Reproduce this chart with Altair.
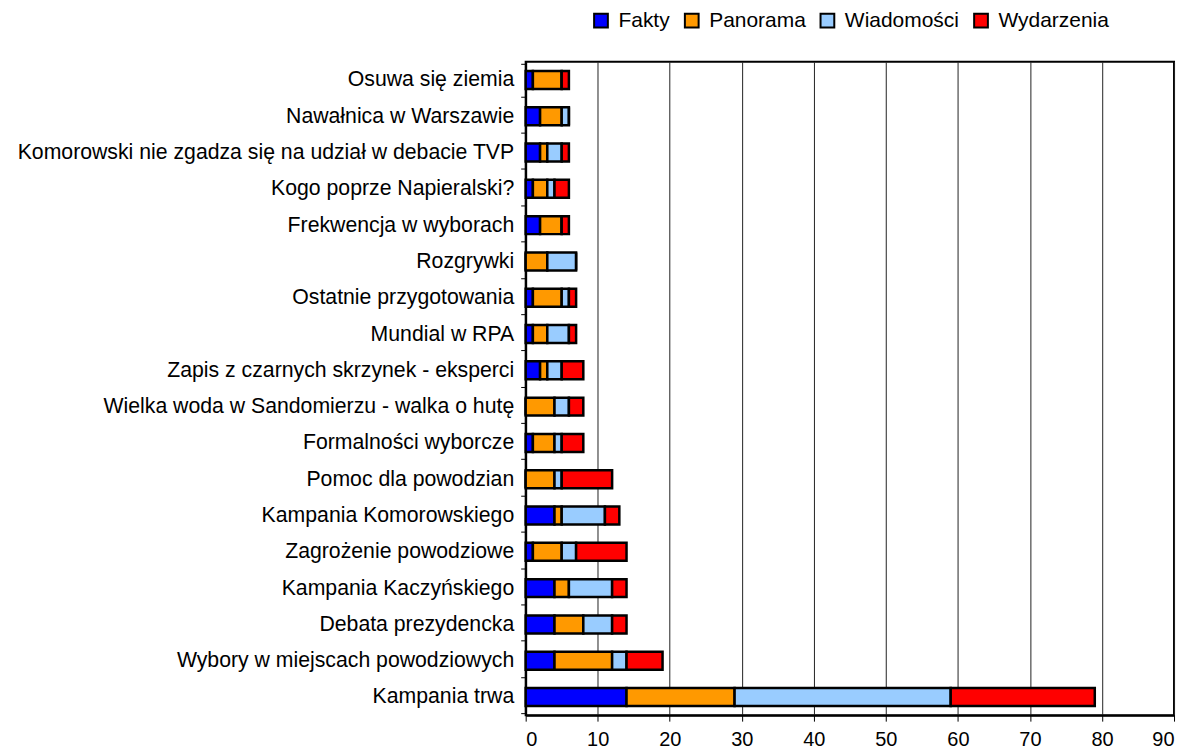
import altair as alt
import pandas as pd

topics = [
    "Osuwa się ziemia",
    "Nawałnica w Warszawie",
    "Komorowski nie zgadza się na udział w debacie TVP",
    "Kogo poprze Napieralski?",
    "Frekwencja w wyborach",
    "Rozgrywki",
    "Ostatnie przygotowania",
    "Mundial w RPA",
    "Zapis z czarnych skrzynek - eksperci",
    "Wielka woda w Sandomierzu - walka o hutę",
    "Formalności wyborcze",
    "Pomoc dla powodzian",
    "Kampania Komorowskiego",
    "Zagrożenie powodziowe",
    "Kampania Kaczyńskiego",
    "Debata prezydencka",
    "Wybory w miejscach powodziowych",
    "Kampania trwa",
]
fakty =       [1, 2, 2, 1, 2, 0, 1, 1, 2, 0, 1, 0, 4, 1, 4, 4, 4, 14]
panorama =    [4, 3, 1, 2, 3, 3, 4, 2, 1, 4, 3, 4, 1, 4, 2, 4, 8, 15]
wiadomosci =  [0, 1, 2, 1, 0, 4, 1, 3, 2, 2, 1, 1, 6, 2, 6, 4, 2, 30]
wydarzenia =  [1, 0, 1, 2, 1, 0, 1, 1, 3, 2, 3, 7, 2, 7, 2, 2, 5, 20]

series = ["Fakty", "Panorama", "Wiadomości", "Wydarzenia"]
colors = ["#0000FF", "#FF9900", "#99CCFF", "#FF0000"]
x_ticks = [0, 10, 20, 30, 40, 50, 60, 70, 80, 90]

rows = []
for s_i, (name, vals) in enumerate(zip(series, [fakty, panorama, wiadomosci, wydarzenia])):
    for t, v in zip(topics, vals):
        rows.append({"topic": t, "series": name, "value": v, "ord": s_i})
df = pd.DataFrame(rows)

FONT = "Liberation Sans"

chart = alt.Chart(df).mark_bar(
    stroke="black", strokeWidth=2.5, size=18
).encode(
    y=alt.Y("topic:N", sort=topics, title=None,
            axis=alt.Axis(labelFontSize=21.3, labelColor="black", labelFont=FONT,
                          tickBand="extent", tickColor="black", tickSize=5,
                          domainColor="black", domainWidth=2, labelPadding=7,
                          labelLimit=700)),
    x=alt.X("value:Q", stack="zero", title=None,
            scale=alt.Scale(domain=[0, 90], nice=False),
            axis=alt.Axis(values=x_ticks, labelFontSize=20, labelColor="black",
                          labelFont=FONT, tickColor="black", tickSize=6,
                          domainColor="black", domainWidth=2, grid=True,
                          gridColor="#222222", gridWidth=1, labelPadding=8)),
    color=alt.Color("series:N", sort=series,
                    scale=alt.Scale(domain=series, range=colors),
                    legend=alt.Legend(orient="none", legendX=65, legendY=-52,
                                      direction="horizontal", title=None,
                                      symbolType="square", symbolStrokeColor="black",
                                      symbolStrokeWidth=2, symbolSize=190,
                                      labelFontSize=21, labelFont=FONT,
                                      labelColor="black", columnPadding=10,
                                      labelOffset=7)),
    order=alt.Order("ord:Q"),
).properties(
    width=650, height=655,
    autosize=alt.AutoSizeParams(type="none"),
    padding={"left": 519, "top": 53, "right": 10, "bottom": 36},
).configure_view(
    stroke="black", strokeWidth=2
)

chart.save("out.html", embed_options={"renderer": "svg", "actions": False})
